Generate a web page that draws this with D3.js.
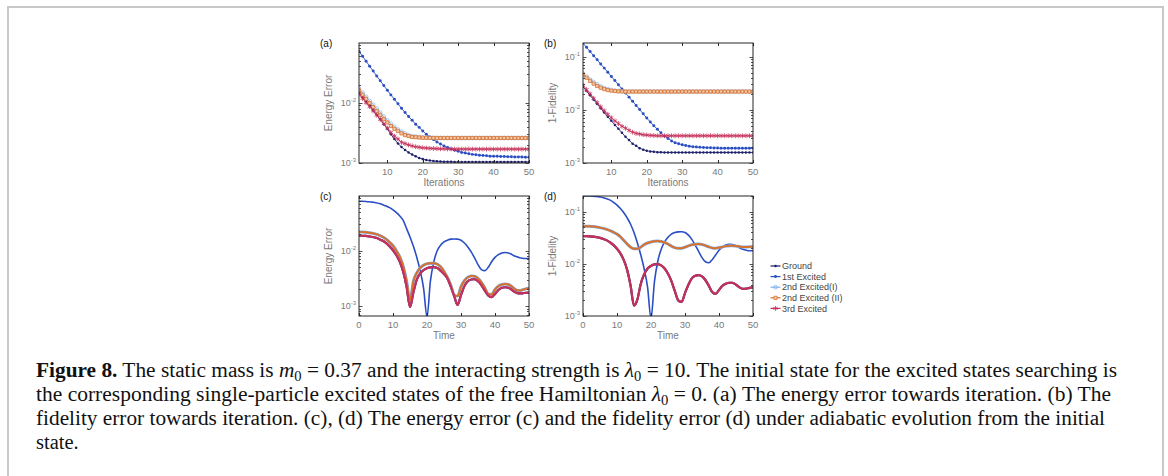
<!DOCTYPE html>
<html>
<head>
<meta charset="utf-8">
<script src="https://cdn.jsdelivr.net/npm/d3@7"></script>
<style>
body { margin: 0; background: #fff; }
svg text { font-family: "Liberation Sans", Arial, sans-serif; }
</style>
</head>
<body>
<svg id="fig" width="1168" height="476"></svg>
<script>
// ---- data ----
const seriesNames = ["Ground", "1st Excited", "2nd Excited(I)", "2nd Excited (II)", "3rd Excited"];
const iterations = d3.range(2, 51);   // x of panels (a),(b)
const times = d3.range(0, 51);        // x of panels (c),(d)

// (a) energy error vs iteration
const groundA = [0.0148,0.0124,0.0104,0.0090,0.0075,0.0063,0.0053,0.0044,0.0037,0.0030,
  0.0025,0.0021,0.00185,0.00165,0.00150,0.00138,0.00129,0.00121,0.00116,0.00112,
  0.00110,0.00108,0.00107,0.00106,0.00105,0.00105,0.00105,0.00104,0.00104,0.00104,
  0.00104,0.00104,0.00104,0.00104,0.00104,0.00104,0.00104,0.00104,0.00104,0.00104,
  0.00104,0.00104,0.00104,0.00104,0.00104,0.00104,0.00104,0.00104,0.00104];
const firstA = [0.0713,0.0589,0.0488,0.0404,0.0335,0.0278,0.0232,0.0193,0.0161,0.0135,
  0.0114,0.0096,0.0081,0.0069,0.0059,0.0051,0.0044,0.0039,0.0034,0.0030,
  0.0027,0.00245,0.00224,0.00206,0.00192,0.00180,0.00171,0.00163,0.00156,0.00150,
  0.00146,0.00142,0.00139,0.00137,0.00135,0.00133,0.00132,0.00130,0.00130,0.00129,
  0.00128,0.00128,0.00127,0.00127,0.00126,0.00126,0.00126,0.00125,0.00125];
const secondIA = [0.0172,0.0147,0.0126,0.0108,0.0093,0.0080,0.0069,0.0059,0.0051,0.0045,
  0.0040,0.0036,0.0033,0.0031,0.0029,0.0028,0.00275,0.0027,0.00267,0.00265,
  0.00263,0.00262,0.00261,0.0026,0.0026,0.0026,0.0026,0.0026,0.0026,0.0026,
  0.0026,0.0026,0.0026,0.0026,0.0026,0.0026,0.0026,0.0026,0.0026,0.0026,
  0.0026,0.0026,0.0026,0.0026,0.0026,0.0026,0.0026,0.0026,0.0026];
const secondIIA = [0.0160,0.0136,0.0116,0.0099,0.0085,0.0073,0.0063,0.0054,0.0047,0.0041,
  0.0037,0.0034,0.0031,0.0029,0.0028,0.0027,0.00268,0.00265,0.00263,0.00262,
  0.00261,0.0026,0.0026,0.0026,0.0026,0.0026,0.0026,0.0026,0.0026,0.0026,
  0.0026,0.0026,0.0026,0.0026,0.0026,0.0026,0.0026,0.0026,0.0026,0.0026,
  0.0026,0.0026,0.0026,0.0026,0.0026,0.0026,0.0026,0.0026,0.0026];
const thirdA = [0.0140,0.0118,0.0100,0.0086,0.0073,0.0062,0.0053,0.0045,0.0038,0.0032,
  0.0028,0.0025,0.0022,0.0021,0.0020,0.00192,0.00186,0.00182,0.00179,0.00177,
  0.00175,0.00174,0.00173,0.00172,0.00172,0.00171,0.00171,0.0017,0.0017,0.0017,
  0.0017,0.0017,0.0017,0.0017,0.0017,0.0017,0.0017,0.0017,0.0017,0.0017,
  0.0017,0.0017,0.0017,0.0017,0.0017,0.0017,0.0017,0.0017,0.0017];

// (b) 1-fidelity vs iteration
const groundB = [0.027,0.0225,0.0187,0.0155,0.0129,0.0107,0.0089,0.0074,0.0062,0.0052,
  0.0044,0.0037,0.0031,0.0027,0.0023,0.0021,0.0019,0.00178,0.0017,0.00165,
  0.00162,0.0016,0.00159,0.00158,0.00158,0.00158,0.00158,0.00158,0.00158,0.00158,
  0.00158,0.00158,0.00158,0.00158,0.00158,0.00158,0.00158,0.00158,0.00158,0.00158,
  0.00158,0.00158,0.00158,0.00158,0.00158,0.00158,0.00158,0.00158,0.00158];
const firstB = [0.178,0.149,0.124,0.104,0.0869,0.0726,0.0607,0.0507,0.0424,0.0354,
  0.0296,0.0247,0.0207,0.0173,0.0144,0.0121,0.0101,0.0084,0.0070,0.0059,
  0.0050,0.0043,0.0037,0.0032,0.0029,0.0026,0.0024,0.0023,0.0022,0.00213,
  0.00207,0.00202,0.00199,0.00197,0.00195,0.00194,0.00193,0.00192,0.00191,0.0019,
  0.0019,0.0019,0.0019,0.0019,0.0019,0.0019,0.0019,0.0019,0.0019];
const secondIB = [0.048,0.042,0.037,0.033,0.030,0.0275,0.0258,0.0245,0.0236,0.0230,
  0.0226,0.0223,0.0221,0.022,0.022,0.022,0.022,0.022,0.022,0.022,
  0.022,0.022,0.022,0.022,0.022,0.022,0.022,0.022,0.022,0.022,
  0.022,0.022,0.022,0.022,0.022,0.022,0.022,0.022,0.022,0.022,
  0.022,0.022,0.022,0.022,0.022,0.022,0.022,0.022,0.022];
const secondIIB = [0.046,0.040,0.035,0.031,0.028,0.026,0.0245,0.0235,0.0229,0.0225,
  0.0222,0.0221,0.022,0.022,0.022,0.022,0.022,0.022,0.022,0.022,
  0.022,0.022,0.022,0.022,0.022,0.022,0.022,0.022,0.022,0.022,
  0.022,0.022,0.022,0.022,0.022,0.022,0.022,0.022,0.022,0.022,
  0.022,0.022,0.022,0.022,0.022,0.022,0.022,0.022,0.022];
const thirdB = [0.029,0.024,0.020,0.0165,0.0137,0.0114,0.0096,0.0082,0.0071,0.0062,
  0.0055,0.0049,0.0045,0.0041,0.0038,0.0036,0.0035,0.0034,0.00335,0.0033,
  0.00328,0.00325,0.00325,0.00325,0.00325,0.00325,0.00325,0.00325,0.00325,0.00325,
  0.00325,0.00325,0.00325,0.00325,0.00325,0.00325,0.00325,0.00325,0.00325,0.00325,
  0.00325,0.00325,0.00325,0.00325,0.00325,0.00325,0.00325,0.00325,0.00325];

// (c) energy error vs time, stored as log10 of the value
const firstLogC = [-1.103,-1.104,-1.107,-1.112,-1.12,-1.13,-1.145,-1.165,-1.19,-1.22,
  -1.26,-1.31,-1.37,-1.45,-1.6,-1.75,-1.92,-2.12,-2.36,-2.68,
  -3.2,-2.55,-2.2,-2.0,-1.9,-1.84,-1.81,-1.79,-1.787,-1.79,
  -1.81,-1.86,-1.93,-2.02,-2.13,-2.25,-2.34,-2.36,-2.3,-2.2,
  -2.12,-2.07,-2.04,-2.03,-2.04,-2.07,-2.1,-2.12,-2.135,-2.14,-2.14];
const secondLogC = [-1.66,-1.661,-1.665,-1.672,-1.683,-1.698,-1.72,-1.75,-1.79,-1.845,
  -1.91,-2.0,-2.11,-2.28,-2.55,-2.9,-2.55,-2.4,-2.31,-2.26,
  -2.235,-2.226,-2.224,-2.24,-2.29,-2.37,-2.48,-2.62,-2.8,-2.82,
  -2.65,-2.54,-2.48,-2.455,-2.46,-2.5,-2.57,-2.67,-2.78,-2.79,
  -2.7,-2.64,-2.61,-2.6,-2.61,-2.65,-2.7,-2.72,-2.71,-2.69,-2.68];
const thirdLogC = [-1.727,-1.728,-1.732,-1.74,-1.75,-1.765,-1.79,-1.82,-1.86,-1.92,
  -1.99,-2.08,-2.2,-2.38,-2.65,-3.02,-2.75,-2.52,-2.41,-2.35,
  -2.315,-2.3,-2.297,-2.31,-2.36,-2.42,-2.5,-2.65,-2.82,-2.98,
  -2.8,-2.64,-2.55,-2.52,-2.515,-2.55,-2.62,-2.72,-2.81,-2.84,
  -2.78,-2.71,-2.67,-2.66,-2.67,-2.71,-2.75,-2.77,-2.77,-2.76,-2.757];

// (d) 1-fidelity vs time, stored as log10 of the value
const firstLogD = [-0.695,-0.696,-0.698,-0.702,-0.708,-0.718,-0.732,-0.752,-0.778,-0.82,
  -0.874,-0.94,-1.02,-1.12,-1.24,-1.4,-1.6,-1.83,-2.1,-2.45,
  -3.05,-2.35,-1.95,-1.72,-1.58,-1.49,-1.43,-1.4,-1.386,-1.385,
  -1.4,-1.45,-1.53,-1.64,-1.76,-1.88,-1.96,-1.98,-1.92,-1.83,
  -1.74,-1.68,-1.64,-1.627,-1.63,-1.655,-1.69,-1.72,-1.74,-1.75,-1.749];
const secondLogD = [-1.276,-1.277,-1.28,-1.285,-1.293,-1.305,-1.32,-1.34,-1.365,-1.395,
  -1.43,-1.48,-1.55,-1.62,-1.68,-1.712,-1.71,-1.68,-1.63,-1.6,
  -1.58,-1.567,-1.563,-1.57,-1.59,-1.62,-1.66,-1.69,-1.702,-1.7,
  -1.68,-1.655,-1.635,-1.625,-1.621,-1.63,-1.65,-1.675,-1.695,-1.7,
  -1.69,-1.675,-1.66,-1.655,-1.653,-1.66,-1.668,-1.675,-1.676,-1.674,-1.672];
const thirdLogD = [-1.467,-1.468,-1.472,-1.478,-1.488,-1.502,-1.522,-1.55,-1.59,-1.64,
  -1.71,-1.8,-1.93,-2.12,-2.42,-2.8,-2.68,-2.38,-2.2,-2.09,
  -2.04,-2.01,-2.004,-2.03,-2.09,-2.19,-2.33,-2.52,-2.7,-2.73,
  -2.56,-2.4,-2.28,-2.23,-2.215,-2.24,-2.31,-2.42,-2.54,-2.575,
  -2.5,-2.42,-2.38,-2.362,-2.365,-2.4,-2.45,-2.48,-2.475,-2.46,-2.45];

// ---- styles ----
const colors = ["#1c1f6b", "#2a4fc4", "#7fb0ee", "#d8712c", "#c6305a"];

const svg = d3.select("#fig");

svg.append("rect")
  .attr("x", 8).attr("y", 7)
  .attr("width", 1155).attr("height", 490)
  .attr("fill", "none")
  .attr("stroke", "#c8c8c8")
  .attr("stroke-width", 2);

function markerPath(i) {
  const shapes = [d3.symbolCircle, d3.symbolCircle, d3.symbolCircle, d3.symbolSquare, d3.symbolAsterisk];
  const sizes = [5, 7, 11, 10, 16];
  return d3.symbol().type(shapes[i]).size(sizes[i])();
}
const markerFill = ["#1c1f6b", "#2a4fc4", "none", "#f3c9ad", "none"];

function drawPanel(p) {
  const g = svg.append("g");
  const x = d3.scaleLinear().domain(p.xDomain).range([p.left, p.right]);
  const y = d3.scaleLog().domain(p.yDomain).range([p.bottom, p.top]);

  const clipId = "clip-" + p.letter;
  svg.append("clipPath").attr("id", clipId)
    .append("rect")
    .attr("x", p.left).attr("y", p.top)
    .attr("width", p.right - p.left).attr("height", p.bottom - p.top);

  const plot = g.append("g").attr("clip-path", `url(#${clipId})`);

  p.series.forEach((vals, si) => {
    const pts = vals.map((v, k) => [p.xs[k], p.isLog ? Math.pow(10, v) : v]);
    const line = d3.line()
      .x(d => x(d[0]))
      .y(d => y(d[1]))
      .curve(p.markers ? d3.curveLinear : d3.curveMonotoneX);
    plot.append("path")
      .datum(pts)
      .attr("fill", "none")
      .attr("stroke", colors[si])
      .attr("stroke-width", p.widths[si])
      .attr("stroke-linejoin", "round")
      .attr("d", line);

    if (p.markers) {
      plot.selectAll(null)
        .data(pts)
        .enter()
        .append("path")
        .attr("transform", d => `translate(${x(d[0])},${y(d[1])})`)
        .attr("d", markerPath(si))
        .attr("fill", markerFill[si])
        .attr("stroke", colors[si])
        .attr("stroke-width", si <= 1 ? 0 : 0.8)
        .attr("opacity", si === 2 ? 0.8 : 1);
    }
  });

  // frame
  g.append("rect")
    .attr("x", p.left).attr("y", p.top)
    .attr("width", p.right - p.left).attr("height", p.bottom - p.top)
    .attr("fill", "none")
    .attr("stroke", "#262626")
    .attr("stroke-width", 1);

  // x ticks, inside on top and bottom
  p.xTicks.forEach(t => {
    const xx = Math.round(x(t)) + 0.5;
    g.append("line").attr("x1", xx).attr("x2", xx)
      .attr("y1", p.bottom).attr("y2", p.bottom - 3).attr("stroke", "#262626");
    g.append("line").attr("x1", xx).attr("x2", xx)
      .attr("y1", p.top).attr("y2", p.top + 3).attr("stroke", "#262626");
    g.append("text")
      .attr("x", x(t)).attr("y", p.bottom + 12)
      .attr("text-anchor", "middle")
      .attr("font-size", 9.5)
      .attr("fill", "#7a7a7a")
      .text(t);
  });

  // log y ticks, major + minor on both sides
  const lo = Math.floor(Math.log10(p.yDomain[0]));
  const hi = Math.ceil(Math.log10(p.yDomain[1]));
  for (let e = lo; e <= hi; e++) {
    for (let k = 1; k <= 9; k++) {
      const v = k * Math.pow(10, e);
      if (v < p.yDomain[0] * 0.999 || v > p.yDomain[1]) continue;
      const yy = Math.round(y(v)) + 0.5;
      const len = k === 1 ? 3.5 : 2;
      g.append("line").attr("x1", p.left).attr("x2", p.left + len)
        .attr("y1", yy).attr("y2", yy).attr("stroke", "#262626").attr("stroke-width", 0.8);
      g.append("line").attr("x1", p.right).attr("x2", p.right - len)
        .attr("y1", yy).attr("y2", yy).attr("stroke", "#262626").attr("stroke-width", 0.8);
      if (k === 1) {
        const lab = g.append("text")
          .attr("x", p.left - 3).attr("y", y(v) + 3)
          .attr("text-anchor", "end")
          .attr("font-size", 9)
          .attr("fill", "#7a7a7a");
        lab.append("tspan").text("10");
        lab.append("tspan").attr("font-size", 6).attr("dy", -4).text(e);
      }
    }
  }

  // axis labels
  g.append("text")
    .attr("x", (p.left + p.right) / 2).attr("y", p.bottom + 23)
    .attr("text-anchor", "middle")
    .attr("font-size", 10)
    .attr("fill", "#7a7a7a")
    .text(p.xLabel);

  g.append("text")
    .attr("transform", `translate(${p.left - 27},${(p.top + p.bottom) / 2}) rotate(-90)`)
    .attr("text-anchor", "middle")
    .attr("font-size", 10)
    .attr("fill", "#7a7a7a")
    .text(p.yLabel);

  g.append("text")
    .attr("x", p.left - 39).attr("y", p.top + 4)
    .attr("font-size", 10)
    .attr("fill", "#111")
    .text(`(${p.letter})`);
}

const lineWidthsA = [0.9, 0.9, 0.9, 0.9, 0.9];
const lineWidthsC = [2.2, 1.6, 3.0, 2.0, 2.2];

drawPanel({
  letter: "a", left: 359, right: 529, top: 43, bottom: 163,
  xDomain: [2, 50], yDomain: [1e-3, 0.098], xs: iterations,
  xTicks: [10, 20, 30, 40, 50], xLabel: "Iterations", yLabel: "Energy Error",
  series: [groundA, firstA, secondIA, secondIIA, thirdA],
  widths: lineWidthsA, markers: true, isLog: false
});
drawPanel({
  letter: "b", left: 583, right: 753, top: 43, bottom: 163,
  xDomain: [2, 50], yDomain: [1e-3, 0.18], xs: iterations,
  xTicks: [10, 20, 30, 40, 50], xLabel: "Iterations", yLabel: "1-Fidelity",
  series: [groundB, firstB, secondIB, secondIIB, thirdB],
  widths: lineWidthsA, markers: true, isLog: false
});
drawPanel({
  letter: "c", left: 359, right: 529, top: 196, bottom: 316,
  xDomain: [0, 50], yDomain: [6.6e-4, 0.098], xs: times,
  xTicks: [0, 10, 20, 30, 40, 50], xLabel: "Time", yLabel: "Energy Error",
  series: [thirdLogC, firstLogC, secondLogC, secondLogC, thirdLogC],
  widths: lineWidthsC, markers: false, isLog: true
});
drawPanel({
  letter: "d", left: 583, right: 753, top: 196, bottom: 316,
  xDomain: [0, 50], yDomain: [1e-3, 0.2], xs: times,
  xTicks: [0, 10, 20, 30, 40, 50], xLabel: "Time", yLabel: "1-Fidelity",
  series: [thirdLogD, firstLogD, secondLogD, secondLogD, thirdLogD],
  widths: lineWidthsC, markers: false, isLog: true
});

// legend
const legend = svg.append("g");
seriesNames.forEach((name, i) => {
  const ly = 266 + i * 10.6;
  legend.append("line")
    .attr("x1", 770.5).attr("x2", 780.5)
    .attr("y1", ly).attr("y2", ly)
    .attr("stroke", colors[i]).attr("stroke-width", 1.2);
  legend.append("path")
    .attr("transform", `translate(775.5,${ly})`)
    .attr("d", markerPath(i))
    .attr("fill", markerFill[i])
    .attr("stroke", colors[i])
    .attr("stroke-width", i <= 1 ? 0 : 0.8);
  legend.append("text")
    .attr("x", 782).attr("y", ly + 3.2)
    .attr("font-size", 9)
    .attr("fill", "#444")
    .text(name);
});

// caption
const captionLines = [
  [["b", "Figure 8."], ["", " The static mass is "], ["i", "m"], ["s", "0"],
   ["", " = 0.37 and the interacting strength is "], ["i", "λ"], ["s", "0"],
   ["", " = 10. The initial state for the excited states searching is"]],
  [["", "the corresponding single-particle excited states of the free Hamiltonian "], ["i", "λ"], ["s", "0"],
   ["", " = 0. (a) The energy error towards iteration. (b) The"]],
  [["", "fidelity error towards iteration. (c), (d) The energy error (c) and the fidelity error (d) under adiabatic evolution from the initial"]],
  [["", "state."]]
];
const captionEnds = [1117, 1111, 1105, null];

captionLines.forEach((segs, li) => {
  const t = svg.append("text")
    .attr("x", 36).attr("y", 377 + li * 24)
    .attr("font-size", 20.5)
    .attr("fill", "#111")
    .style("font-family", '"Liberation Serif", "DejaVu Serif", serif');
  if (captionEnds[li]) {
    t.attr("textLength", captionEnds[li] - 36).attr("lengthAdjust", "spacingAndGlyphs");
  }
  let sub = false;
  segs.forEach(([kind, str]) => {
    const ts = t.append("tspan").text(str);
    if (kind === "b") ts.attr("font-weight", "bold");
    if (kind === "i") ts.attr("font-style", "italic");
    if (kind === "s") { ts.attr("font-size", 14).attr("dy", 4); sub = true; }
    else if (sub) { ts.attr("dy", -4); sub = false; }
  });
});
</script>
</body>
</html>
